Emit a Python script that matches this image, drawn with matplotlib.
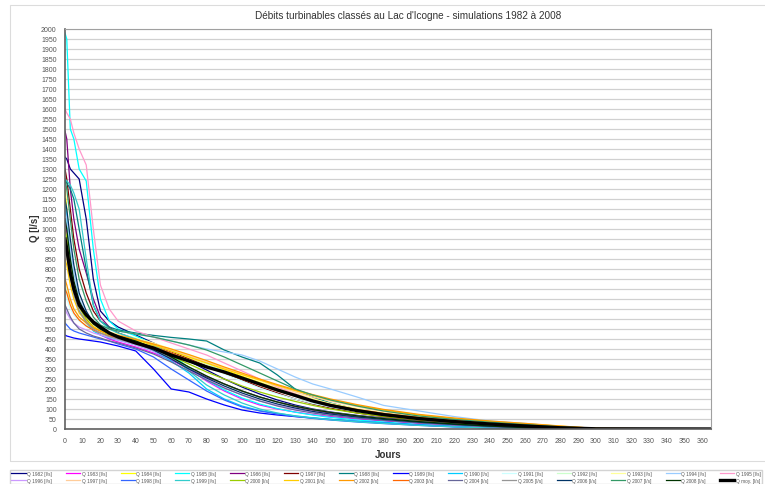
import matplotlib
matplotlib.use("Agg")
import matplotlib.pyplot as plt
from matplotlib.patches import Rectangle

plt.rcParams['font.family'] = ['Liberation Sans', 'DejaVu Sans']

days = [0, 1, 3, 5, 8, 12, 16, 20, 25, 30, 40, 50, 60, 70, 80, 90, 100, 110, 120,
        130, 140, 150, 165, 180, 200, 220, 240, 260, 280, 300, 365]

q1982 = [1360, 1350, 1300, 1280, 1250, 1050, 750, 590, 540, 510, 470, 430, 390, 340, 295, 250, 210, 175, 145, 120, 100, 85, 68, 55, 40, 27, 17, 9, 3, 0, 0]
q1983 = [1050, 980, 820, 720, 610, 540, 500, 470, 450, 435, 410, 380, 345, 300, 240, 190, 150, 120, 100, 85, 72, 62, 50, 40, 28, 18, 10, 4, 0, 0, 0]
q1984 = [1200, 1100, 850, 720, 620, 560, 520, 495, 475, 460, 440, 415, 385, 355, 325, 295, 265, 235, 205, 175, 150, 128, 100, 78, 57, 42, 30, 19, 9, 1, 0]
q1985 = [1980, 1950, 1500, 1450, 1300, 1240, 900, 650, 540, 500, 465, 425, 375, 305, 245, 195, 155, 125, 102, 84, 70, 58, 45, 35, 22, 14, 8, 3, 0, 0, 0]
q1986 = [1490, 1450, 1200, 1050, 900, 780, 650, 560, 510, 480, 440, 400, 350, 300, 260, 225, 190, 160, 135, 112, 95, 80, 62, 48, 33, 22, 13, 6, 1, 0, 0]
q1987 = [1300, 1250, 1100, 950, 800, 680, 590, 540, 505, 480, 450, 420, 385, 350, 315, 280, 245, 210, 180, 150, 125, 105, 80, 62, 44, 30, 19, 10, 3, 0, 0]
q1988 = [1250, 1230, 1200, 1150, 1000, 800, 620, 540, 510, 495, 480, 468, 458, 450, 440, 395, 360, 330, 270, 200, 160, 130, 98, 75, 55, 40, 28, 18, 8, 1, 0]
q1989 = [470, 465, 460, 455, 450, 445, 440, 435, 425, 415, 390, 300, 200, 185, 150, 120, 95, 80, 70, 62, 55, 48, 38, 30, 20, 12, 6, 2, 0, 0, 0]
q1990 = [1150, 1050, 850, 720, 600, 530, 490, 470, 455, 445, 420, 390, 340, 280, 200, 150, 115, 92, 78, 66, 56, 48, 38, 30, 20, 12, 6, 2, 0, 0, 0]
q1991 = [680, 650, 600, 570, 540, 515, 495, 480, 465, 455, 435, 410, 380, 345, 310, 275, 240, 205, 175, 150, 128, 110, 88, 70, 52, 38, 27, 17, 8, 1, 0]
q1992 = [720, 690, 640, 600, 560, 530, 505, 490, 475, 465, 445, 420, 390, 360, 325, 290, 255, 222, 192, 165, 140, 120, 95, 75, 55, 40, 28, 18, 9, 2, 0]
q1993 = [1000, 950, 820, 720, 620, 560, 520, 500, 485, 475, 455, 430, 400, 370, 340, 305, 270, 238, 205, 175, 150, 128, 102, 80, 58, 43, 31, 20, 10, 2, 0]
q1994 = [1100, 1050, 900, 780, 650, 580, 540, 515, 500, 490, 475, 460, 440, 420, 400, 385, 370, 340, 300, 260, 225, 200, 160, 118, 90, 62, 40, 28, 12, 2, 0]
q1995 = [1600, 1580, 1550, 1480, 1400, 1320, 1000, 720, 600, 540, 490, 460, 430, 400, 370, 330, 290, 250, 210, 175, 145, 120, 92, 72, 52, 37, 25, 15, 6, 0, 0]
q1996 = [600, 580, 550, 530, 510, 495, 480, 470, 458, 445, 420, 390, 350, 300, 250, 205, 170, 140, 118, 100, 85, 73, 58, 46, 32, 21, 12, 5, 0, 0, 0]
q1997 = [900, 860, 760, 680, 600, 550, 515, 495, 480, 470, 450, 425, 395, 365, 335, 305, 275, 245, 215, 185, 160, 140, 112, 88, 64, 46, 32, 20, 10, 2, 0]
q1998 = [530, 520, 500, 490, 480, 470, 460, 450, 440, 425, 400, 360, 300, 245, 190, 145, 110, 90, 75, 63, 53, 45, 35, 27, 18, 10, 5, 1, 0, 0, 0]
q1999 = [1250, 1240, 1220, 1180, 1100, 850, 620, 540, 500, 480, 450, 420, 370, 290, 220, 170, 130, 100, 80, 65, 55, 46, 36, 28, 18, 11, 5, 1, 0, 0, 0]
q2000 = [1000, 950, 800, 700, 610, 550, 510, 490, 470, 455, 430, 400, 365, 325, 285, 250, 215, 185, 160, 138, 118, 100, 80, 63, 46, 33, 22, 13, 5, 0, 0]
q2001 = [850, 820, 720, 650, 580, 540, 510, 490, 475, 465, 445, 420, 390, 360, 330, 300, 272, 245, 218, 192, 168, 145, 118, 95, 70, 52, 38, 26, 14, 3, 0]
q2002 = [750, 720, 650, 600, 560, 530, 505, 490, 478, 468, 448, 425, 400, 372, 342, 310, 280, 250, 222, 196, 172, 150, 122, 98, 73, 55, 40, 28, 15, 3, 0]
q2003 = [700, 680, 620, 580, 545, 515, 495, 480, 465, 455, 435, 410, 380, 345, 310, 280, 250, 220, 190, 165, 142, 122, 98, 78, 58, 42, 30, 19, 9, 2, 0]
q2004 = [620, 600, 560, 530, 500, 480, 465, 455, 440, 430, 405, 375, 335, 290, 245, 205, 170, 140, 115, 95, 80, 68, 54, 43, 30, 20, 11, 5, 0, 0, 0]
q2005 = [900, 870, 760, 670, 590, 535, 500, 480, 462, 450, 425, 395, 355, 310, 265, 225, 190, 160, 135, 115, 98, 84, 67, 53, 38, 26, 16, 8, 2, 0, 0]
q2006 = [1150, 1100, 950, 820, 680, 590, 530, 500, 475, 460, 430, 395, 350, 300, 255, 215, 180, 150, 125, 105, 88, 75, 60, 48, 34, 23, 14, 7, 1, 0, 0]
q2007 = [1250, 1200, 1050, 900, 750, 640, 560, 520, 500, 490, 475, 460, 440, 420, 395, 360, 320, 280, 240, 200, 170, 145, 115, 90, 65, 48, 34, 22, 11, 2, 0]
q2008 = [1050, 1000, 850, 740, 640, 570, 525, 500, 480, 465, 440, 405, 360, 310, 265, 225, 190, 160, 135, 114, 97, 83, 66, 52, 37, 25, 15, 7, 1, 0, 0]
q_moy = [950, 900, 780, 700, 620, 570, 535, 510, 480, 460, 430, 405, 370, 340, 310, 285, 255, 225, 195, 168, 140, 118, 92, 72, 52, 37, 25, 15, 6, 1, 0]

years = list(range(1982, 2009))
colors = ['#000080', '#FF00FF', '#FFFF00', '#00FFFF', '#800080', '#800000', '#008080',
          '#0000FF', '#00CCFF', '#CCFFFF', '#CCFFCC', '#FFFF99', '#99CCFF', '#FF99CC',
          '#CC99FF', '#FFCC99', '#3366FF', '#33CCCC', '#99CC00', '#FFCC00', '#FF9900',
          '#FF6600', '#666699', '#969696', '#003366', '#339966', '#003300']
series = [q1982, q1983, q1984, q1985, q1986, q1987, q1988, q1989, q1990, q1991,
          q1992, q1993, q1994, q1995, q1996, q1997, q1998, q1999, q2000, q2001,
          q2002, q2003, q2004, q2005, q2006, q2007, q2008]

fig = plt.figure(figsize=(7.65, 4.85), dpi=100)
W, H = 765, 485

# chart area frame
fig.patches.append(Rectangle((10 / W, 1 - 462 / H), 760 / W, 456 / H, transform=fig.transFigure,
                             fill=False, ec='#dcdcdc', lw=0.8))

ax = fig.add_axes([65 / W, 1 - 430 / H, 646 / W, 400 / H])
handles = []
for y, q, c in zip(years, series, colors):
    h, = ax.plot(days, q, color=c, lw=0.9, label=f'Q {y} [l/s]')
    handles.append(h)
h, = ax.plot(days, q_moy, color='black', lw=2.4, label='Q moy. [l/s]')
handles.append(h)

ax.set_xlim(0, 365)
ax.set_ylim(0, 2000)
ax.set_xticks(range(0, 361, 10))
ax.set_yticks(range(0, 2001, 50))
ax.tick_params(labelsize=5, length=0, pad=6, colors='#555555')
ax.grid(axis='y', color='#d0d0d0', lw=0.9)
ax.set_axisbelow(True)
for s in ['top', 'right']:
    ax.spines[s].set_color('#a0a0a0')
for s in ['left', 'bottom']:
    ax.spines[s].set_color('#606060')
    ax.spines[s].set_linewidth(1.2)

fig.text(408 / W, 1 - 16 / H, "Débits turbinables classés au Lac d'Icogne - simulations 1982 à 2008",
         ha='center', va='center', fontsize=7.2, color='#333333')
fig.text(35 / W, 1 - 228 / H, 'Q [l/s]', rotation=90, ha='center', va='center',
         fontsize=7, fontweight='bold', color='#333333')
fig.text(388 / W, 1 - 455 / H, 'Jours', ha='center', va='center',
         fontsize=7, fontweight='bold', color='#333333')

# legend filled row by row (2 rows x 14 columns)
order = []
for i in range(14):
    order += [handles[i], handles[i + 14]]
leg = fig.legend(order, [h.get_label() for h in order], ncol=14, loc='lower left',
                 bbox_to_anchor=(10 / W, 0, 752 / W, 18 / H), mode='expand',
                 fontsize=3.4, handlelength=3.0, handletextpad=0.3, columnspacing=0.3,
                 borderpad=0.3, labelspacing=0.35, frameon=True, fancybox=False,
                 edgecolor='#c8c8c8', borderaxespad=0)
for t in leg.get_texts():
    t.set_color('#555555')

fig.savefig('out.png', dpi=100)
